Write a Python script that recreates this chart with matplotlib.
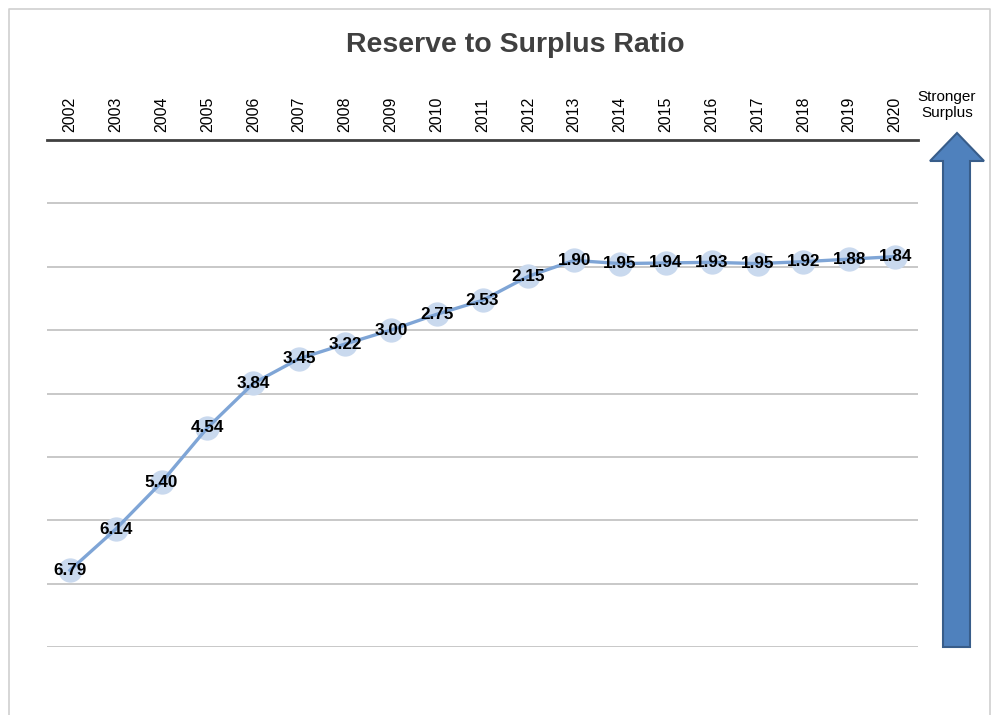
import matplotlib
matplotlib.use("Agg")
import matplotlib.pyplot as plt
from matplotlib.patches import Polygon
from matplotlib.lines import Line2D

plt.rcParams['font.family'] = ['Liberation Sans', 'DejaVu Sans']

years = ['2002', '2003', '2004', '2005', '2006', '2007', '2008', '2009', '2010', '2011',
         '2012', '2013', '2014', '2015', '2016', '2017', '2018', '2019', '2020']
ratios = [6.79, 6.14, 5.40, 4.54, 3.84, 3.45, 3.22, 3.00, 2.75, 2.53,
          2.15, 1.90, 1.95, 1.94, 1.93, 1.95, 1.92, 1.88, 1.84]
y_ticks = [0, 1, 2, 3, 4, 5, 6, 7, 8]

W, H = 994, 715
fig = plt.figure(figsize=(W / 100, H / 100), dpi=100)
fig.patch.set_facecolor('white')

def fx(px):
    return px / W

def fy(py):
    return 1 - py / H

ax = fig.add_axes([fx(47), fy(647), fx(918) - fx(47), fy(140) - fy(647)])
x = list(range(len(years)))

ax.set_xlim(-0.5, len(years) - 0.5)
ax.set_ylim(8, 0)
ax.set_yticks(y_ticks)
ax.set_yticklabels([])
ax.tick_params(axis='y', length=0)
ax.grid(axis='y', color='#bfbfbf', linewidth=1.2)
ax.set_axisbelow(True)

ax.xaxis.tick_top()
ax.set_xticks(x)
ax.set_xticklabels(years, rotation=90, fontsize=11.5, color='black')
ax.tick_params(axis='x', length=0, pad=6)

for s in ['left', 'right', 'bottom']:
    ax.spines[s].set_visible(False)
ax.spines['top'].set_color('#404040')
ax.spines['top'].set_linewidth(2)

ax.plot(x, ratios, linestyle='none', marker='o', markersize=17.5,
        markerfacecolor='#c9d9ee', markeredgecolor='none', zorder=3, clip_on=False)
ax.plot(x, ratios, color='#7fa5d6', linewidth=2.4, zorder=4, clip_on=False)
for xi, v in zip(x, ratios):
    ax.text(xi, v, f"{v:.2f}", ha='center', va='center', fontsize=12.3,
            fontweight='bold', color='black', zorder=5)

fig.text(fx(515), fy(45), 'Reserve to Surplus Ratio', ha='center', va='center',
         fontsize=20.5, fontweight='bold', color='#404040')
fig.text(fx(947), fy(105), 'Stronger\nSurplus', ha='center', va='center',
         fontsize=11, color='black', linespacing=1.15)

# arrow shape
pts = [(957, 133), (984, 161), (970, 161), (970, 647), (943, 647), (943, 161), (930, 161)]
arrow = Polygon([(fx(a), fy(b)) for a, b in pts], closed=True, transform=fig.transFigure,
                facecolor='#4f81bd', edgecolor='#385d8a', linewidth=1.5)
fig.patches.append(arrow)

# frame
frame_pts = [(9, 720), (9, 9), (990, 9), (990, 720)]
fig.lines.append(Line2D([fx(a) for a, b in frame_pts], [fy(b) for a, b in frame_pts],
                        transform=fig.transFigure, color='#d0d0d0', linewidth=1.2))

fig.savefig('out.png', dpi=100, facecolor='white')
